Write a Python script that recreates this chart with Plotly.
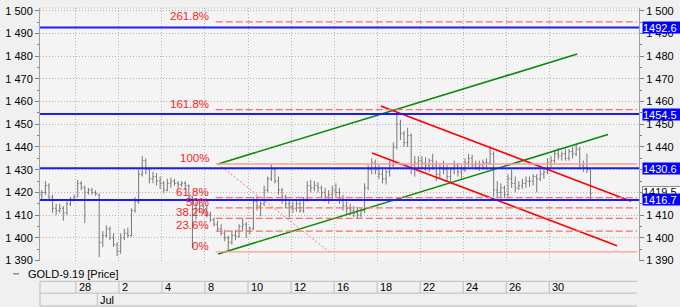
import plotly.graph_objects as go

# ---------------- data ----------------
trading_days = ["06-26", "06-27", "06-28", "07-01", "07-02", "07-03", "07-04", "07-05",
                "07-08", "07-09", "07-10", "07-11", "07-12", "07-15", "07-16", "07-17",
                "07-18", "07-19", "07-22", "07-23", "07-24", "07-25", "07-26", "07-29",
                "07-30", "07-31"]
origin_day = "06-28"          # day index 0 on the x axis
bars_per_day = 6
first_slot = 2                # first bar of 06-26 is its 3rd 4-hour bar

open_ = [
    1419, 1420, 1423, 1418,                     # Jun 26
    1413, 1412, 1413, 1411, 1415, 1417,         # Jun 27
    1418, 1424, 1422, 1420, 1421, 1420,         # Jun 28
    1419, 1398, 1401, 1404, 1400, 1397,         # Jul 1
    1394, 1400, 1402, 1401, 1412, 1416,         # Jul 2
    1428, 1434, 1430, 1426, 1427, 1425,         # Jul 3
    1424, 1421, 1424, 1425, 1424, 1423.5,       # Jul 4
    1424, 1423, 1418, 1410, 1413, 1414,         # Jul 5
    1412, 1410, 1408, 1406, 1404, 1402,         # Jul 8
    1400, 1398, 1401, 1400.5, 1405, 1406,       # Jul 9
    1403, 1404, 1416, 1414, 1415, 1421,         # Jul 10
    1426, 1430, 1425, 1421, 1418, 1415,         # Jul 11
    1414, 1413, 1415, 1412, 1417, 1423,         # Jul 12
    1422, 1423, 1422, 1420, 1418, 1419,         # Jul 15
    1421, 1420, 1417, 1414, 1413, 1412,         # Jul 16
    1411, 1410, 1412, 1422, 1430, 1433,         # Jul 17
    1430, 1428, 1426, 1429, 1432, 1440,         # Jul 18
    1450, 1446, 1442, 1445, 1432, 1433,         # Jul 19
    1434, 1433, 1432, 1434, 1432, 1428,         # Jul 22
    1431, 1430, 1427, 1430, 1432, 1429,         # Jul 23
    1430, 1433, 1435, 1432, 1431, 1432,         # Jul 24
    1433, 1433, 1437, 1421, 1420, 1422,         # Jul 25
    1419, 1426, 1424, 1422, 1423, 1424,         # Jul 26
    1425, 1425, 1427, 1426, 1428, 1429,         # Jul 29
    1433, 1434, 1437, 1436, 1437, 1435,         # Jul 30
    1438, 1437, 1439, 1432, 1431, 1430,         # Jul 31
]
high = [
    1421, 1425, 1424, 1419,
    1415, 1415, 1414, 1416, 1418, 1419,
    1425.5, 1425, 1423, 1422, 1422, 1421,
    1419.5, 1403, 1405.5, 1405, 1402, 1398,
    1402, 1404, 1404.5, 1413, 1418, 1430,
    1436, 1435, 1431, 1429, 1428.5, 1427,
    1425, 1426, 1426.5, 1426, 1425, 1425,
    1425, 1423.5, 1418.5, 1416, 1416, 1415,
    1414, 1411.5, 1409, 1407.5, 1406, 1403.5,
    1401, 1403, 1403.5, 1406, 1408.5, 1407,
    1405, 1418, 1418.5, 1416, 1423, 1427,
    1432.5, 1431, 1427, 1422, 1419, 1417,
    1416, 1416.5, 1416, 1418, 1425, 1425.5,
    1425, 1424.5, 1423, 1422, 1421, 1423,
    1424, 1422, 1419, 1416, 1415, 1414,
    1413, 1413, 1424, 1432, 1435, 1434.5,
    1432, 1431, 1430, 1434, 1442, 1455.5,
    1452, 1447, 1448.5, 1446, 1436, 1436,
    1436, 1435.5, 1435, 1437, 1434, 1433,
    1434, 1432, 1431, 1434, 1433, 1432,
    1435, 1437, 1436.5, 1434, 1434, 1434.5,
    1435, 1440.5, 1438, 1425, 1424, 1423,
    1428, 1430, 1427, 1425, 1426, 1427,
    1427, 1428, 1428, 1430, 1430.5, 1435,
    1436, 1438.5, 1439.5, 1438, 1439, 1439,
    1440, 1441.5, 1440, 1434, 1437, 1430,
]
low = [
    1417, 1419, 1417, 1411,
    1410, 1411, 1407.5, 1410, 1414, 1416,
    1418, 1421, 1406.5, 1419, 1419, 1418.5,
    1391.5, 1396, 1400, 1399, 1396, 1392,
    1393, 1399, 1400, 1400.5, 1411, 1415,
    1427, 1428, 1424, 1424, 1423, 1421.5,
    1419.5, 1420.5, 1422, 1423, 1422, 1422.5,
    1421.5, 1416, 1395.5, 1408, 1411, 1410.5,
    1409, 1407, 1405, 1403, 1401, 1398.5,
    1394.5, 1397, 1399, 1400, 1403, 1400,
    1401.5, 1403.5, 1412, 1409.5, 1414, 1420,
    1425, 1424, 1419, 1415, 1413, 1409,
    1411, 1411.5, 1411, 1411, 1416, 1420,
    1420.5, 1420, 1418, 1416, 1415, 1417,
    1418, 1415, 1412, 1410.5, 1410, 1409,
    1408.5, 1409, 1411, 1421, 1428, 1428,
    1426, 1424, 1423.5, 1427, 1431, 1439,
    1443, 1440, 1440, 1428, 1427, 1430,
    1430, 1429.5, 1429, 1430, 1425, 1426,
    1428, 1425, 1424.5, 1428, 1427, 1426,
    1429, 1431, 1430.5, 1430, 1429.5, 1430,
    1430, 1432, 1418, 1417.5, 1418, 1417.5,
    1418, 1422, 1420, 1421, 1421.5, 1422,
    1422.5, 1423, 1420, 1425, 1426, 1428,
    1431, 1433, 1434.5, 1434, 1434, 1434,
    1435, 1436, 1431, 1429, 1428.5, 1417,
]
close = [
    1420, 1423, 1418, 1413,
    1412, 1413, 1411, 1415, 1417, 1418,
    1424, 1422, 1420, 1421, 1420, 1419.5,
    1398, 1401, 1404, 1400, 1397, 1394,
    1400, 1402, 1401, 1412, 1416, 1428,
    1434, 1430, 1426, 1427, 1425, 1424,
    1421, 1424, 1425, 1424, 1423.5, 1424,
    1423, 1418, 1410, 1413, 1414, 1412,
    1410, 1408, 1406, 1404, 1402, 1400,
    1398, 1401, 1400.5, 1405, 1406, 1403,
    1404, 1416, 1414, 1415, 1421, 1426,
    1430, 1425, 1421, 1418, 1415, 1414,
    1413, 1415, 1412, 1417, 1423, 1422,
    1423, 1422, 1420, 1418, 1419, 1421,
    1420, 1417, 1414, 1413, 1412, 1411,
    1410, 1412, 1422, 1430, 1433, 1430,
    1428, 1426, 1429, 1432, 1440, 1450,
    1446, 1442, 1445, 1432, 1433, 1434,
    1433, 1432, 1434, 1432, 1428, 1431,
    1430, 1427, 1430, 1432, 1429, 1430,
    1433, 1435, 1432, 1431, 1432, 1433,
    1433, 1437, 1421, 1420, 1422, 1419,
    1426, 1424, 1422, 1423, 1424, 1425,
    1425, 1427, 1426, 1428, 1429, 1433,
    1434, 1437, 1436, 1437, 1435, 1438,
    1437, 1439, 1432, 1431, 1430, 1419.5,
]
last_price = 1419.5
series_name = "GOLD-9.19 [Price]"

tick_days = ["06-28", "07-02", "07-04", "07-08", "07-10", "07-12",
             "07-16", "07-18", "07-22", "07-24", "07-26", "07-30"]
tick_labels = ["28", "2", "4", "8", "10", "12", "16", "18", "22", "24", "26", "30"]
month_day = "07-01"
month_label = "Jul"

# price-axis ticks (right axis skips the values hidden behind the value boxes)
left_ticks = [1390, 1400, 1410, 1420, 1430, 1440, 1450, 1460, 1470, 1480, 1490, 1500]
right_ticks = [1390, 1400, 1410, 1440, 1450, 1460, 1470, 1480, 1490, 1500]

# horizontal support / resistance levels (blue)
levels = [1492.6, 1454.5, 1430.6, 1416.7]

# Fibonacci retracement
fib_high = 1432.5
fib_low = 1393.8
fib_pcts = [0, 23.6, 38.2, 50, 61.8, 100, 161.8, 261.8]
fib_labels = ["0%", "23.6%", "38.2%", "50%", "61.8%", "100%", "161.8%", "261.8%"]
fib_anchor_x = [6.61, 11.78]     # day index of the high / low anchors

# trend channels: (day index pair, price pair)
green_upper = ([6.61, 23.30], [1432.5, 1480.9])
green_lower = ([6.61, 24.73], [1392.9, 1445.5])
red_upper = ([14.17, 25.80], [1458.1, 1416.1])
red_lower = ([13.76, 25.15], [1437.4, 1396.5])

# ---------------- layout constants ----------------
W, H = 680, 307
L, R, T, B = 38, 41, 5, 46
PW, PH = W - L - R, H - T - B
X_RANGE = [-1.667, 26.17]
Y_RANGE = [1389.8, 1501.2]
FONT = "Liberation Sans, Arial, sans-serif"
GRID = "#b4b4b4"

def pxx(p):  # pixel x -> paper x
    return (p - L) / PW

def pxy(p):  # pixel y -> paper y
    return (H - B - p) / PH

o_idx = trading_days.index(origin_day)
def day_x(d):
    return trading_days.index(d) - o_idx

bar_x = []
for i in range(len(close)):
    slot = first_slot + i
    bar_x.append((slot // bars_per_day) - o_idx + (slot % bars_per_day + 0.5) / bars_per_day)

tick_x = [day_x(d) for d in tick_days]

fig = go.Figure()
fig.add_trace(go.Ohlc(
    x=bar_x, open=open_, high=high, low=low, close=close,
    increasing=dict(line=dict(color="#787878", width=1)),
    decreasing=dict(line=dict(color="#787878", width=1)),
    tickwidth=0.35, hoverinfo="skip", name=series_name,
))

for (xs, ys), col in [(green_upper, "#0b8a0b"), (green_lower, "#0b8a0b"),
                      (red_upper, "#ff0000"), (red_lower, "#ff0000")]:
    fig.add_trace(go.Scatter(x=xs, y=ys, mode="lines",
                             line=dict(color=col, width=1.6), hoverinfo="skip"))

# fib diagonal
fig.add_trace(go.Scatter(x=fib_anchor_x, y=[fib_high, fib_low], mode="lines",
                         line=dict(color="#ff7070", width=1, dash="2px,2px"),
                         hoverinfo="skip"))

# empty trace to activate the right-hand axis
fig.add_trace(go.Scatter(x=[], y=[], yaxis="y2", hoverinfo="skip"))

shapes = []
annotations = []

# fib levels
fib_x0 = 6.5
fib_x1 = 26.08
for p, lab in zip(fib_pcts, fib_labels):
    v = fib_low + (fib_high - fib_low) * p / 100.0
    solid = p in (0, 100)
    shapes.append(dict(type="line", xref="x", yref="y", x0=fib_x0, x1=fib_x1, y0=v, y1=v,
                       line=dict(color="#ff9a9a" if solid else "#ff6a6a", width=1.3,
                                 dash="solid" if solid else "7px,3px")))
    annotations.append(dict(x=fib_x0, y=v, xref="x", yref="y", text=lab, showarrow=False,
                            xanchor="right", yanchor="bottom", xshift=-5, yshift=-2,
                            font=dict(family=FONT, size=11.5, color="#ff2020")))

# blue levels
for v in levels:
    shapes.append(dict(type="line", xref="paper", yref="y", x0=0, x1=1, y0=v, y1=v,
                       line=dict(color="#1c1cff", width=2)))

# top dotted frame
shapes.append(dict(type="line", xref="paper", yref="paper", x0=0, x1=1, y0=1, y1=1,
                   line=dict(color=GRID, width=1, dash="1px,2px")))

# right-side value boxes
annotations.append(dict(x=1, y=last_price, xref="paper", yref="y", text="%.1f" % last_price,
                        showarrow=False, xanchor="left", yanchor="middle", xshift=3, yshift=2,
                        bgcolor="#ffffff", bordercolor="#909090", borderwidth=1, borderpad=0,
                        width=38, height=10, align="left",
                        font=dict(family=FONT, size=11, color="#000000")))
for v in levels:
    annotations.append(dict(x=1, y=v, xref="paper", yref="y", text="%.1f" % v,
                            showarrow=False, xanchor="left", yanchor="middle", xshift=3,
                            bgcolor="#0000ff", borderpad=0, width=40, height=11, align="left",
                            font=dict(family=FONT, size=11, color="#ffffff")))

# legend row
shapes.append(dict(type="line", xref="paper", yref="paper", x0=pxx(11), x1=pxx(17),
                   y0=pxy(274), y1=pxy(274), line=dict(color="#606060", width=1)))
annotations.append(dict(x=pxx(24), y=pxy(274), xref="paper", yref="paper", text=series_name,
                        showarrow=False, xanchor="left", yanchor="middle",
                        font=dict(family=FONT, size=11, color="#000000")))

# date rows
BOX = "#bcbcbc"
r1_top, r1_bot, r2_bot = pxy(281.5), pxy(293.5), pxy(306.5)
for yy in (r1_top, r1_bot, r2_bot):
    shapes.append(dict(type="line", xref="paper", yref="paper", x0=0, x1=pxx(637),
                       y0=yy, y1=yy, line=dict(color=BOX, width=1)))
shapes.append(dict(type="line", xref="paper", yref="paper", x0=0, x1=0,
                   y0=r1_top, y1=r2_bot, line=dict(color=BOX, width=1)))
for tx, lab in zip(tick_x, tick_labels):
    shapes.append(dict(type="line", xref="x", yref="paper", x0=tx, x1=tx,
                       y0=r1_top, y1=r1_bot, line=dict(color=BOX, width=1)))
    annotations.append(dict(x=tx, y=(r1_top + r1_bot) / 2, xref="x", yref="paper", text=lab,
                            showarrow=False, xanchor="left", yanchor="middle", xshift=1,
                            font=dict(family=FONT, size=11, color="#000000")))
mx = day_x(month_day)
shapes.append(dict(type="line", xref="x", yref="paper", x0=mx, x1=mx,
                   y0=r1_bot, y1=r2_bot, line=dict(color=BOX, width=1)))
annotations.append(dict(x=mx, y=(r1_bot + r2_bot) / 2, xref="x", yref="paper", text=month_label,
                        showarrow=False, xanchor="left", yanchor="middle", xshift=1,
                        font=dict(family=FONT, size=11, color="#000000")))

def yaxis_common(ticks_list):
    return dict(
        range=Y_RANGE, tickmode="array", tickvals=ticks_list,
        ticktext=["{:,}".format(t).replace(",", " ") for t in ticks_list],
        ticks="outside", ticklen=4, tickcolor="#808080", showline=True, linecolor="#a0a0a0",
        zeroline=False, fixedrange=True,
        tickfont=dict(family=FONT, size=11, color="#000000"),
        minor=dict(tickmode="linear", tick0=1390, dtick=5, ticks="outside", ticklen=2,
                   tickcolor="#808080", showgrid=False),
    )

fig.update_layout(
    width=W, height=H, margin=dict(l=L, r=R, t=T, b=B),
    paper_bgcolor="#f0f0f0", plot_bgcolor="#f4f4f4",
    showlegend=False,
    font=dict(family=FONT, size=11, color="#000000"),
    xaxis=dict(range=X_RANGE, tickmode="array", tickvals=tick_x, showticklabels=False,
               ticks="", showgrid=True, gridcolor=GRID, griddash="1px,2px", gridwidth=1,
               zeroline=False, showline=False, fixedrange=True,
               rangeslider=dict(visible=False)),
    yaxis=dict(**yaxis_common(left_ticks), side="left", showgrid=True, gridcolor=GRID,
               griddash="1px,2px", gridwidth=1),
    yaxis2=dict(**yaxis_common(right_ticks), side="right", overlaying="y", showgrid=False),
    shapes=shapes, annotations=annotations,
)

fig.write_html("out.html")
